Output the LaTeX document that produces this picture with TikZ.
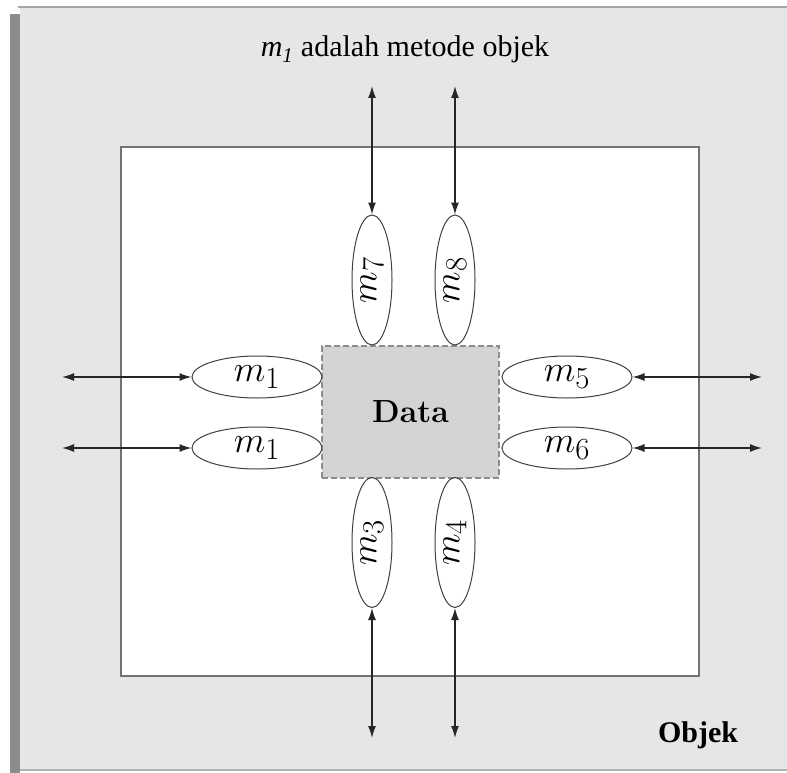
\documentclass[tikz,border=0pt]{standalone}
\usepackage{fontspec}
\newfontfamily\tnr{Liberation Serif}
\usetikzlibrary{shapes.geometric,arrows.meta}
\definecolor{panel}{HTML}{E5E6E8}
\definecolor{datafill}{HTML}{D3D3D3}
\definecolor{dashcol}{HTML}{8C8C8C}
\newcommand{\methlab}[1]{\scalebox{1.48}{$#1$}}
\begin{document}
\begin{tikzpicture}[x=1pt,y=-1pt,
  meth/.style={ellipse,draw=black!75,line width=1pt,fill=white,inner sep=0pt,
    font=\fontsize{24.88}{30}\selectfont},
  hm/.style={meth,minimum width=130pt,minimum height=42pt},
  vm/.style={meth,minimum width=40pt,minimum height=130pt},
  conn/.style={arrows={Latex[length=12pt,width=8pt]-Latex[length=12pt,width=8pt]},
    line width=1.4pt,black!85},
  frame/.style={draw=black!55,line width=1.2pt,fill=white,inner sep=0pt},
  databox/.style={draw=dashcol,line width=2pt,dash pattern=on 6pt off 3pt,
    fill=datafill,inner sep=0pt,minimum width=177pt,minimum height=132pt,
    font=\fontsize{32}{38}\selectfont\bfseries},
  caption/.style={inner sep=0pt,anchor=base}]
\useasboundingbox (0,0) rectangle (787,773);
\fill[white] (0,0) rectangle (787,773);
\fill[black!45] (10,14) rectangle (20,773);
\fill[panel] (20,7) rectangle (787,770);
\draw[black!35,line width=2pt] (18,7) -- (787,7);
\draw[black!30,line width=1.5pt] (20,770) -- (787,770);
% object frame
\node[frame,minimum width=578pt,minimum height=529pt] (obj) at (410,411.5) {};
% data
\node[databox] (data) at (410.5,412) {Data};
% methods
\node[hm] (ma) at (257,377) {\methlab{m_1}};
\node[hm] (mb) at (257,448) {\methlab{m_1}};
\node[hm] (m5) at (567,377) {\methlab{m_5}};
\node[hm] (m6) at (567,448) {\methlab{m_6}};
\node[vm] (m7) at (372,280) {\rotatebox{90}{\methlab{m_7}}};
\node[vm] (m8) at (455,280) {\rotatebox{90}{\methlab{m_8}}};
\node[vm] (m3) at (372,542.5) {\rotatebox{90}{\methlab{m_3}}};
\node[vm] (m4) at (455,542.5) {\rotatebox{90}{\methlab{m_4}}};
% free ends
\coordinate (ea) at (62,377);
\coordinate (eb) at (62,448);
\coordinate (e5) at (762,377);
\coordinate (e6) at (762,448);
\coordinate (e7) at (372,86);
\coordinate (e8) at (455,86);
\coordinate (e3) at (372,738);
\coordinate (e4) at (455,738);
\draw[conn] (ea) -- (ma.west);
\draw[conn] (eb) -- (mb.west);
\draw[conn] (m5.east) -- (e5);
\draw[conn] (m6.east) -- (e6);
\draw[conn] (e7) -- (m7.north);
\draw[conn] (e8) -- (m8.north);
\draw[conn] (m3.south) -- (e3);
\draw[conn] (m4.south) -- (e4);
% texts
\node[caption] (title) at (405,57) {\tnr\fontsize{30}{36}\selectfont\textit{m}\textsubscript{\textit{1}} adalah metode objek};
\node[caption] (objlabel) at (698,742) {\tnr\fontsize{30}{36}\selectfont\bfseries Objek};
\end{tikzpicture}
\end{document}
